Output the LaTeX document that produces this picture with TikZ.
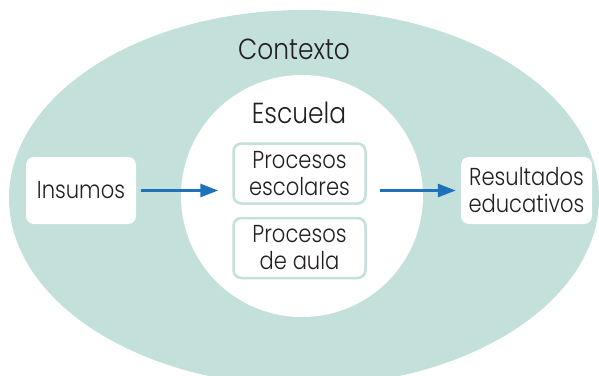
\documentclass[tikz,border=0pt]{standalone}
\usepackage{fontspec}
\setmainfont{Poppins Light}[FakeStretch=0.86]
\usetikzlibrary{arrows.meta}
\definecolor{contexto}{HTML}{C3E0DA}
\definecolor{azul}{HTML}{1F72B8}
\definecolor{tinta}{HTML}{231F20}

\begin{document}
\begin{tikzpicture}[x=1pt,y=-1pt]
        \tikzset{caja/.style={fill=white,rounded corners=8pt,align=center,inner sep=0pt,
                text=tinta,minimum width=110pt,minimum height=67pt,
                font=\fontsize{24.5}{27}\selectfont},
            proceso/.style={caja,draw=contexto,line width=2.5pt,
                minimum width=132pt,minimum height=60pt},
            titulo/.style={text=tinta,font=\fontsize{29}{32}\selectfont},
            flecha/.style={draw=azul,line width=2.8pt,
                -{Triangle[length=18pt,width=13pt]}}}
        \useasboundingbox (0,0) rectangle (599,375);
        \fill[contexto] (304,198) ellipse [x radius=295,y radius=188];
        \fill[white] (302,196) circle [radius=121];
        \node[titulo] (contexto) at (294,49) {Contexto};
        \node[titulo] (escuela) at (299,113) {Escuela};
        \node[caja] (insumos) at (81,190.5) {Insumos};
        \node[proceso] (escolares) at (299.5,173.5) {Procesos\\escolares};
        \node[proceso] (aula) at (299.5,248) {Procesos\\de aula};
        \node[caja,minimum width=131pt] (resultados) at (526.5,190.5) {Resultados\\educativos};
        \draw[flecha,shorten <=5pt,shorten >=14pt] (insumos.east) -- (insumos.east -| escolares.west);
        \draw[flecha,shorten <=13pt,shorten >=5pt] (resultados.west -| escolares.east) -- (resultados.west);
    \end{tikzpicture}
\end{document}
